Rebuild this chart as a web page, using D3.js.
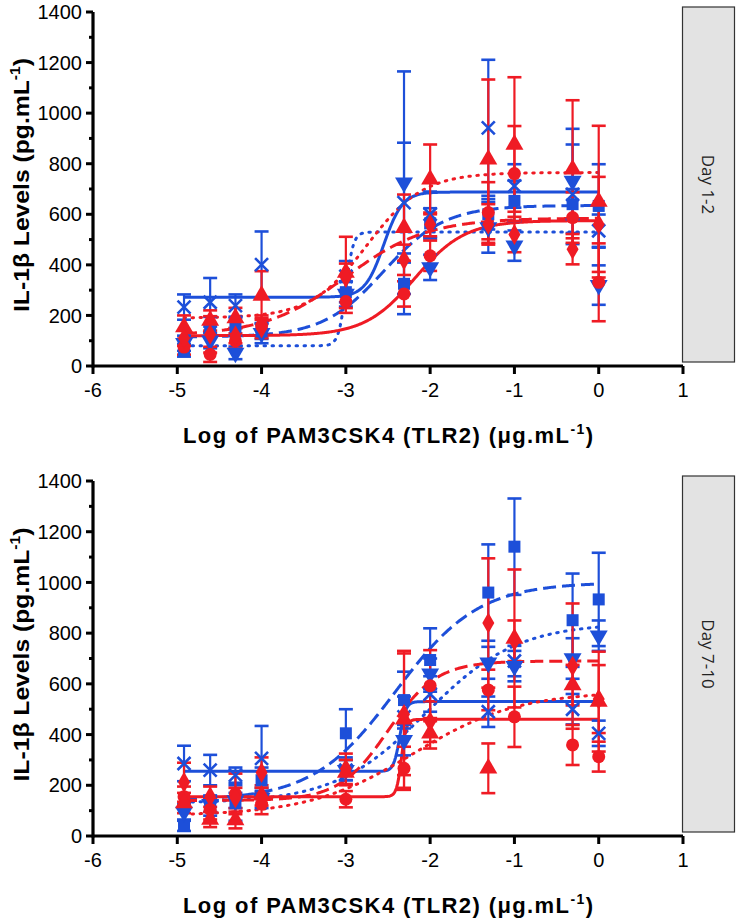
<!DOCTYPE html>
<html><head><meta charset="utf-8">
<script src="https://cdn.jsdelivr.net/npm/d3@7"></script>
<style>body{margin:0;background:#fff}svg{display:block}</style>
</head><body><svg id="c" width="736" height="919"></svg>
<script>
// ---------- data ----------
const xVals = [-4.92, -4.61, -4.31, -4, -3, -2.31, -2, -1.31, -1, -0.31, 0];
const xTicks = [-6, -5, -4, -3, -2, -1, 0, 1];
const yTicks = [0, 200, 400, 600, 800, 1000, 1200, 1400];
const yMinorTicks = [100, 300, 500, 700, 900, 1100, 1300];
const panelLabels = ["Day 1-2", "Day 7-10"];
const seriesNames = ["blueX", "blueSquare", "blueTriDown", "redCircle", "redTriUp", "redDiamond"];
const seriesColors = ["#1d4fd9", "#1d4fd9", "#1d4fd9", "#ef1b24", "#ef1b24", "#ef1b24"];
const seriesShapes = ["x", "square", "triDown", "circle", "triUp", "diamond"];
const seriesLine = ["solid", "dashed", "dotted", "solid", "dotted", "dashed"];

// Day 1-2 means / SEM
const day1Means = [
  [233, 252, 239, 401, 355, 646, 600, 942, 712, 679, 535],
  [62, 154, 155, 137, 292, 325, 564, 600, 653, 640, 633],
  [90, 100, 52, 130, 285, 725, 390, 548, 476, 732, 320],
  [75, 46, 99, 160, 255, 285, 436, 607, 761, 587, 331],
  [154, 180, 190, 279, 370, 547, 738, 817, 876, 778, 650],
  [110, 125, 120, 150, 350, 420, 560, 560, 520, 462, 560]
];
const day1Errs = [
  [50, 96, 44, 131, 60, 237, 90, 269, 86, 197, 64],
  [25, 40, 35, 30, 40, 120, 60, 60, 80, 60, 165],
  [30, 30, 25, 40, 50, 440, 50, 100, 60, 206, 78],
  [30, 30, 30, 40, 45, 50, 60, 120, 188, 100, 154],
  [46, 40, 40, 96, 141, 131, 138, 316, 266, 273, 300],
  [30, 72, 30, 40, 55, 60, 47, 80, 70, 60, 188]
];
// Day 7-10 means / SEM
const day7Means = [
  [286, 260, 240, 306, 260, 470, 560, 490, 690, 500, 405],
  [40, 120, 130, 220, 405, 536, 694, 960, 1141, 851, 933],
  [95, 125, 140, 150, 260, 378, 640, 683, 670, 700, 790],
  [155, 105, 166, 126, 145, 267, 593, 576, 470, 359, 313],
  [130, 65, 63, 160, 250, 460, 405, 267, 779, 595, 530],
  [212, 155, 150, 250, 265, 480, 451, 840, 770, 670, 540]
];
const day7Errs = [
  [70, 60, 30, 128, 40, 80, 70, 60, 60, 60, 50],
  [20, 40, 70, 50, 95, 112, 125, 190, 190, 184, 184],
  [30, 30, 30, 40, 40, 60, 60, 63, 60, 80, 60],
  [40, 40, 80, 40, 32, 85, 140, 80, 119, 79, 59],
  [40, 30, 33, 40, 50, 270, 60, 98, 272, 80, 197],
  [77, 40, 40, 60, 60, 240, 80, 255, 80, 247, 134]
];
// fitted dose-response curves: [bottom, top, logEC50, hill]
const day1Fits = [
  [272, 688, -2.55, 3.9],
  [115, 635, -2.55, 1.2],
  [80, 530, -3.0, 10],
  [120, 575, -2.18, 1.46],
  [190, 765, -2.75, 1.3],
  [120, 585, -3.0, 0.9]
];
const day7Fits = [
  [255, 530, -2.36, 12],
  [140, 1000, -2.41, 0.886],
  [130, 840, -2.05, 0.8],
  [155, 460, -2.34, 15],
  [80, 570, -2.2, 0.7],
  [140, 690, -2.5, 1.5]
];

// ---------- drawing ----------
const svg = d3.select("#c");
const panels = [
  {means: day1Means, errs: day1Errs, fits: day1Fits, label: panelLabels[0], top: 12, bottom: 366},
  {means: day7Means, errs: day7Errs, fits: day7Fits, label: panelLabels[1], top: 481, bottom: 836}
];
const xLeft = 93, xRight = 683;
const axisFont = "'Liberation Sans', Arial, sans-serif";

function dashFor(s){ return s === "dashed" ? "13,6" : s === "dotted" ? "1.5,6.5" : null; }

panels.forEach(p => {
  const x = d3.scaleLinear().domain([-6, 1]).range([xLeft, xRight]);
  const y = d3.scaleLinear().domain([0, 1400]).range([p.bottom, p.top]);
  const g = svg.append("g");

  // strip
  const sTop = p.top - 5, sBot = p.bottom - 4;
  g.append("rect").attr("x", 682.5).attr("y", sTop).attr("width", 52).attr("height", sBot - sTop)
    .attr("fill", "#e3e3e3").attr("stroke", "#333").attr("stroke-width", 1.2);
  g.append("text").attr("transform", `translate(${708},${(sTop + sBot) / 2}) rotate(90)`)
    .attr("text-anchor", "middle").attr("dy", "0.35em")
    .attr("font-family", "'Open Sans', 'Liberation Sans', sans-serif").attr("font-size", 17)
    .attr("fill", "#222").text(p.label);

  // curves
  const xs = d3.range(0, 401).map(i => xVals[0] + (xVals[xVals.length - 1] - xVals[0]) * i / 400);
  const line = d3.line().x(d => x(d[0])).y(d => y(d[1]));
  p.fits.forEach((f, si) => {
    const [b, t, ec, h] = f;
    const pts = xs.map(v => [v, b + (t - b) / (1 + Math.pow(10, (ec - v) * h))]);
    g.append("path").attr("d", line(pts)).attr("fill", "none")
      .attr("stroke", seriesColors[si]).attr("stroke-width", 3)
      .attr("stroke-linecap", seriesLine[si] === "dotted" ? "round" : "butt")
      .attr("stroke-dasharray", dashFor(seriesLine[si]));
  });

  // error bars
  p.means.forEach((ms, si) => {
    ms.forEach((m, i) => {
      const e = p.errs[si][i];
      const cx = x(xVals[i]);
      const eg = g.append("g").attr("stroke", seriesColors[si]).attr("stroke-width", 2.2);
      eg.append("line").attr("x1", cx).attr("x2", cx).attr("y1", y(m - e)).attr("y2", y(m + e));
      [m - e, m + e].forEach(v => {
        eg.append("line").attr("x1", cx - 7).attr("x2", cx + 7).attr("y1", y(v)).attr("y2", y(v)).attr("stroke-width", 2.6);
      });
    });
  });

  // markers
  p.means.forEach((ms, si) => {
    const col = seriesColors[si], shape = seriesShapes[si];
    ms.forEach((m, i) => {
      const cx = x(xVals[i]), cy = y(m);
      const mg = g.append("g").attr("transform", `translate(${cx},${cy})`);
      if (shape === "circle") mg.append("circle").attr("r", 6.5).attr("fill", col);
      else if (shape === "square") mg.append("rect").attr("x", -6).attr("y", -6).attr("width", 12).attr("height", 12).attr("fill", col);
      else if (shape === "triUp") mg.append("path").attr("d", d3.symbol(d3.symbolTriangle, 140)()).attr("fill", col);
      else if (shape === "triDown") mg.append("path").attr("d", d3.symbol(d3.symbolTriangle, 140)()).attr("transform", "rotate(180)").attr("fill", col);
      else if (shape === "diamond") mg.append("path").attr("d", d3.symbol(d3.symbolDiamond, 125)()).attr("fill", col);
      else if (shape === "x") mg.append("path").attr("d", "M-6.5,-6.5L6.5,6.5M-6.5,6.5L6.5,-6.5").attr("stroke", col).attr("stroke-width", 2.6).attr("fill", "none");
    });
  });

  // axes
  const ax = g.append("g").attr("stroke", "#000");
  ax.append("line").attr("x1", xLeft).attr("x2", xRight).attr("y1", p.bottom).attr("y2", p.bottom).attr("stroke-width", 3.2);
  ax.append("line").attr("x1", xLeft).attr("x2", xLeft).attr("y1", p.top).attr("y2", p.bottom + 1.5).attr("stroke-width", 3.2);
  xTicks.forEach(t => {
    ax.append("line").attr("x1", x(t)).attr("x2", x(t)).attr("y1", p.bottom).attr("y2", p.bottom + 8).attr("stroke-width", 3);
    g.append("text").attr("x", x(t)).attr("y", p.bottom + 31).attr("text-anchor", "middle")
      .attr("font-family", axisFont).attr("font-size", 20).attr("fill", "#000").text(t);
  });
  yTicks.forEach(t => {
    ax.append("line").attr("x1", xLeft - 7).attr("x2", xLeft).attr("y1", y(t)).attr("y2", y(t)).attr("stroke-width", 3);
    g.append("text").attr("x", xLeft - 11).attr("y", y(t)).attr("dy", "0.36em").attr("text-anchor", "end")
      .attr("font-family", axisFont).attr("font-size", 20).attr("fill", "#000").text(t);
  });
  yMinorTicks.forEach(t => {
    ax.append("line").attr("x1", xLeft - 4).attr("x2", xLeft).attr("y1", y(t)).attr("y2", y(t)).attr("stroke-width", 3);
  });

  // axis titles
  const yt = g.append("text").attr("transform", `translate(29,${(p.top + p.bottom) / 2 - 4}) rotate(-90)`)
    .attr("text-anchor", "middle").attr("font-family", axisFont).attr("font-weight", "bold")
    .attr("font-size", 22).attr("fill", "#000")
    .attr("textLength", 254).attr("lengthAdjust", "spacingAndGlyphs");
  yt.append("tspan").text("IL-1β Levels (pg.mL");
  yt.append("tspan").attr("font-size", 14).attr("dy", -9).text("-1");
  yt.append("tspan").attr("dy", 9).text(")");

  const xt = g.append("text").attr("x", (xLeft + xRight) / 2).attr("y", p.bottom + 77)
    .attr("text-anchor", "middle").attr("font-family", axisFont).attr("font-weight", "bold")
    .attr("font-size", 22).attr("fill", "#000")
    .attr("textLength", 410).attr("lengthAdjust", "spacing");
  xt.append("tspan").text("Log of PAM3CSK4 (TLR2) (μg.mL");
  xt.append("tspan").attr("font-size", 14).attr("dy", -9).text("-1");
  xt.append("tspan").attr("dy", 9).text(")");
});
</script></body></html>
